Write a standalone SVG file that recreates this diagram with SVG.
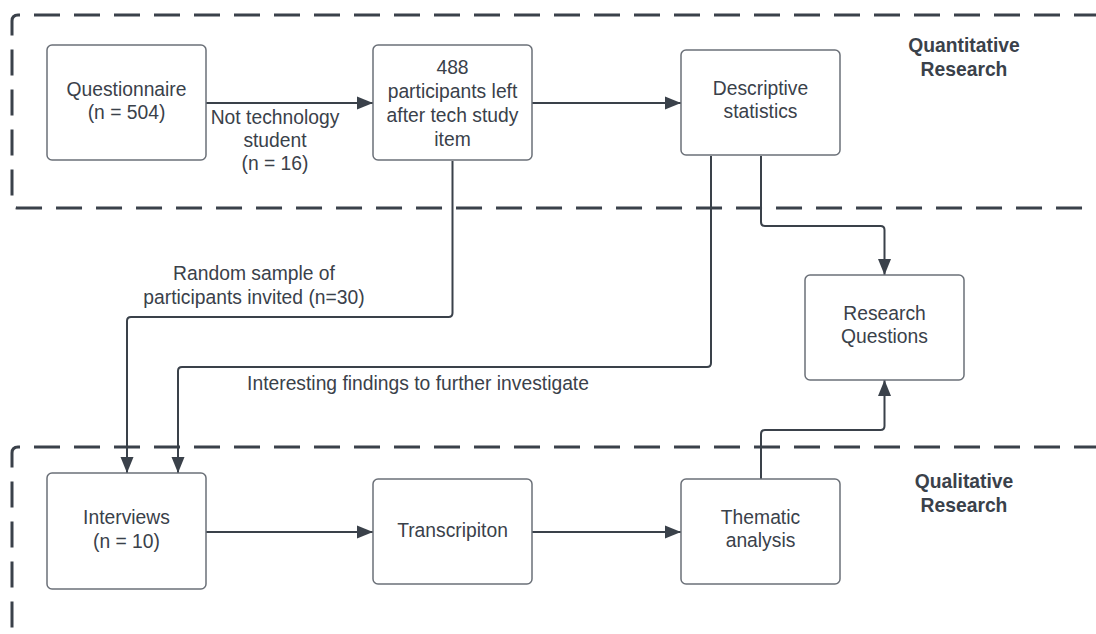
<svg xmlns="http://www.w3.org/2000/svg" width="1096" height="634" viewBox="0 0 1096 634">
<style>
.bg{fill:#ffffff}
.cont{fill:none;stroke:#3a414a;stroke-width:3;stroke-dasharray:26 14}
.box{fill:#ffffff;stroke:#6b7078;stroke-width:1.5}
.t{font-family:"Liberation Sans",Arial,sans-serif;font-size:19.3px;fill:#3a414a;text-anchor:middle}
.b{font-weight:bold}
.c{fill:none;stroke:#3a414a;stroke-width:2}
</style>
<defs>
<marker id="ah" markerWidth="16" markerHeight="14" refX="16" refY="7" orient="auto" markerUnits="userSpaceOnUse">
<path d="M0,0.5 L16,7 L0,13.5 Z" fill="#3a414a"/>
</marker>
</defs>
<rect class="bg" x="0" y="0" width="1096" height="634"/>
<g id="containers">
<path class="cont" d="M1100,15 H18 Q12,15 12,21 V202 Q12,208 18,208 H1100"/>
<path class="cont" d="M1100,447 H18 Q12,447 12,453 V640"/>
<text class="t b" x="964" y="52">Quantitative</text>
<text class="t b" x="964" y="76">Research</text>
<text class="t b" x="964" y="488">Qualitative</text>
<text class="t b" x="964" y="512">Research</text>
</g>
<g id="connectors">
<path class="c" d="M206,103 H373" marker-end="url(#ah)"/>
<path class="c" d="M532,103 H681" marker-end="url(#ah)"/>
<path class="c" d="M452.5,161 V313 Q452.5,317 448.5,317 H131 Q127,317 127,321 V473" marker-end="url(#ah)"/>
<path class="c" d="M711,156 V363 Q711,367 707,367 H182 Q178,367 178,371 V473" marker-end="url(#ah)"/>
<path class="c" d="M761,156 V222 Q761,226 765,226 H880.5 Q884.5,226 884.5,230 V275" marker-end="url(#ah)"/>
<path class="c" d="M761,479 V434 Q761,430 765,430 H880.5 Q884.5,430 884.5,426 V380" marker-end="url(#ah)"/>
<path class="c" d="M206,532 H373" marker-end="url(#ah)"/>
<path class="c" d="M532,532 H681" marker-end="url(#ah)"/>
<text class="t" x="275" y="124">Not technology</text>
<text class="t" x="275" y="147">student</text>
<text class="t" x="275" y="170">(n = 16)</text>
<text class="t" x="254" y="280">Random sample of</text>
<text class="t" x="254" y="304">participants invited (n=30)</text>
<text class="t" x="418" y="390">Interesting findings to further investigate</text>
</g>
<g id="questionnaire">
<rect class="box" x="47" y="45" width="159" height="115" rx="5"/>
<text class="t" x="126.5" y="96">Questionnaire</text>
<text class="t" x="126.5" y="119">(n = 504)</text>
</g>
<g id="participants">
<rect class="box" x="373" y="45" width="159" height="115" rx="5"/>
<text class="t" x="452.5" y="74">488</text>
<text class="t" x="452.5" y="98">participants left</text>
<text class="t" x="452.5" y="122">after tech study</text>
<text class="t" x="452.5" y="146">item</text>
</g>
<g id="descriptive">
<rect class="box" x="681" y="50" width="159" height="105" rx="5"/>
<text class="t" x="760.5" y="95">Descriptive</text>
<text class="t" x="760.5" y="118">statistics</text>
</g>
<g id="research-questions">
<rect class="box" x="805" y="275" width="159" height="105" rx="5"/>
<text class="t" x="884.5" y="320">Research</text>
<text class="t" x="884.5" y="343">Questions</text>
</g>
<g id="interviews">
<rect class="box" x="47" y="473" width="159" height="116" rx="5"/>
<text class="t" x="126.5" y="524">Interviews</text>
<text class="t" x="126.5" y="548">(n = 10)</text>
</g>
<g id="transcription">
<rect class="box" x="373" y="479" width="159" height="105" rx="5"/>
<text class="t" x="452.5" y="537">Transcripiton</text>
</g>
<g id="thematic">
<rect class="box" x="681" y="479" width="159" height="105" rx="5"/>
<text class="t" x="760.5" y="524">Thematic</text>
<text class="t" x="760.5" y="547">analysis</text>
</g>
</svg>
